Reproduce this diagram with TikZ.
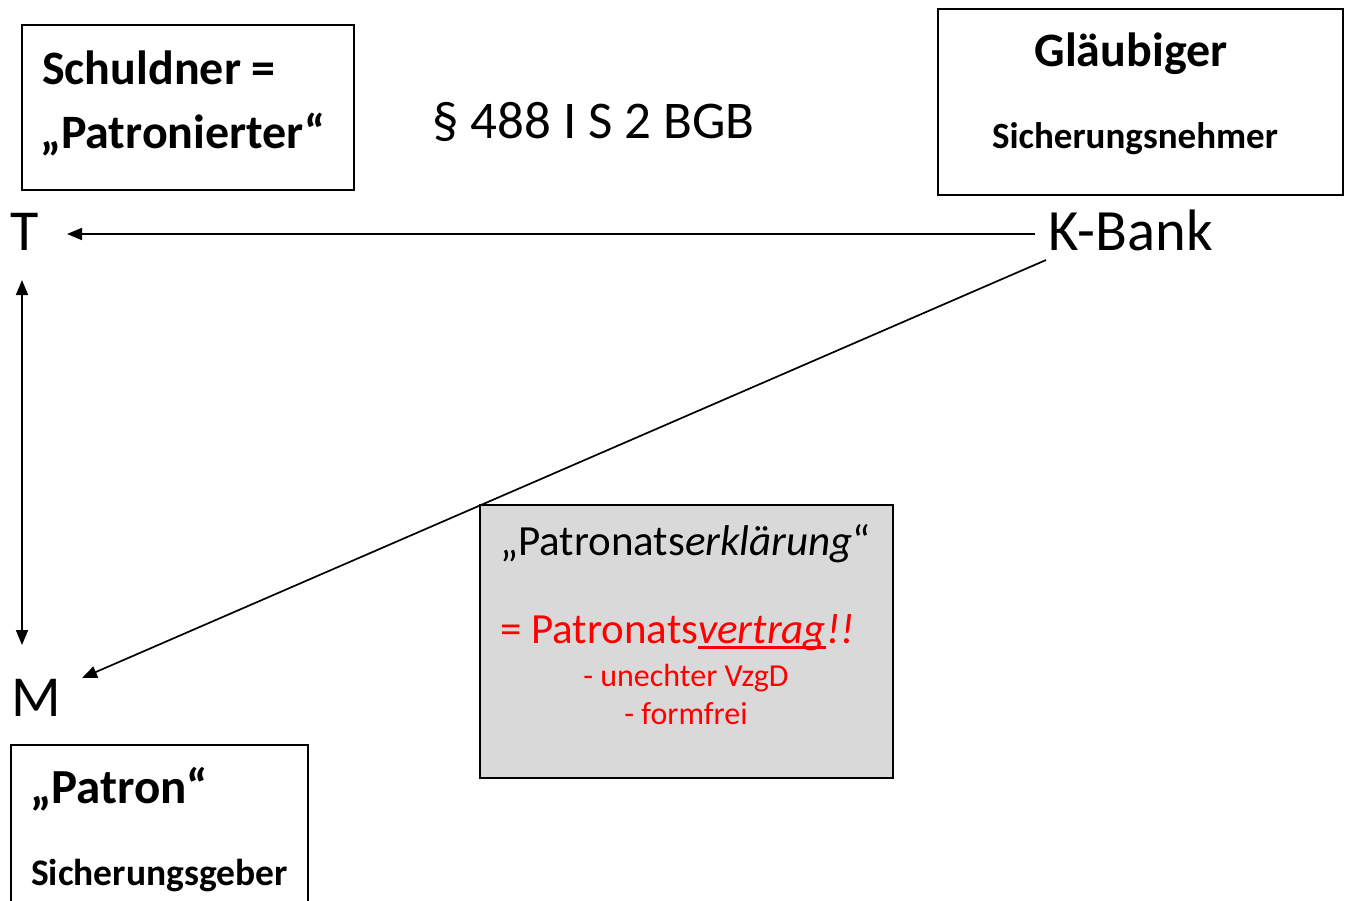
\documentclass[tikz,border=0pt]{standalone}
\usepackage{fontspec}
\setmainfont{Carlito}
\usetikzlibrary{arrows.meta}
\definecolor{boxgray}{HTML}{D9D9D9}
\definecolor{redtxt}{HTML}{FF0000}
\newcommand\ulred[1]{\setbox0\hbox{#1}\rlap{\color{redtxt}\rule[-6pt]{\wd0}{2.8pt}}\box0}
\tikzset{
  frame/.style={draw=black, line width=1.6pt, inner sep=0pt},
  lbl/.style={inner sep=0pt, anchor=base west},
  conn/.style={line width=1.7pt, -{Triangle[length=15pt,width=12pt]}},
}
\begin{document}
\begin{tikzpicture}[x=1pt,y=-1pt]
\useasboundingbox (0,0) rectangle (1348,900);
% boxes
\node[frame, minimum width=332pt, minimum height=165pt] (bSch) at (188,107.5) {};
\node[frame, minimum width=405pt, minimum height=186pt] (bGl) at (1140.5,102) {};
\node[frame, fill=boxgray, minimum width=413pt, minimum height=273pt] (bPat) at (686.5,641.5) {};
\begin{scope}
\clip (0,0) rectangle (1348,900);
\node[frame, minimum width=297pt, minimum height=180pt] (bPa) at (159.5,835) {};
\end{scope}
% texts
\node[lbl, font=\bfseries\fontsize{48}{56}\selectfont] (t1) at (42,84) {Schuldner =};
\node[lbl, font=\bfseries\fontsize{48}{56}\selectfont] (t2) at (40,148) {„Patronierter“};
\node[lbl, font=\fontsize{53}{60}\selectfont] (t3) at (432,138) {§ 488 I S 2 BGB};
\node[inner sep=0pt, anchor=base, font=\bfseries\fontsize{48}{56}\selectfont] (t4) at (1131,66) {Gläubiger};
\node[inner sep=0pt, anchor=base, font=\bfseries\fontsize{37}{44}\selectfont] (t5) at (1135,148) {Sicherungsnehmer};
\node[lbl, font=\bfseries\fontsize{49}{56}\selectfont] (t6) at (30,803) {„Patron“};
\node[lbl, font=\bfseries\fontsize{37.5}{44}\selectfont] (t7) at (31,885) {Sicherungsgeber};
\node[lbl, font=\fontsize{43}{50}\selectfont] (t8) at (500,555) {„Patronats\textit{erklärung}“};
\node[lbl, text=redtxt, font=\fontsize{43}{50}\selectfont] (t9) at (500,643) {= Patronats\ulred{\textit{vertrag}}\textit{!!}};
\node[inner sep=0pt, anchor=base, text=redtxt, font=\fontsize{32}{38}\selectfont] (t10) at (686,686) {- unechter VzgD};
\node[inner sep=0pt, anchor=base, text=redtxt, font=\fontsize{32}{38}\selectfont] (t11) at (686,724) {- formfrei};
% parties
\node[lbl, font=\fontsize{58}{66}\selectfont] (T) at (10,250) {T};
\node[lbl, font=\fontsize{58}{66}\selectfont] (M) at (11,716) {M};
\node[lbl, font=\fontsize{58.5}{66}\selectfont] (K) at (1048,250) {K-Bank};
% connector endpoints
\coordinate (kL) at (1035,234);
\coordinate (tR) at (67,234);
\coordinate (tB) at (22,280);
\coordinate (mT) at (22,645);
\coordinate (kD) at (1046,260);
\coordinate (mR) at (82,678);
\draw[conn] (kL) -- (tR);
\draw[conn, {Triangle[length=15pt,width=12pt]}-{Triangle[length=15pt,width=12pt]}] (tB) -- (mT);
\draw[conn] (kD) -- (mR);
\end{tikzpicture}
\end{document}
